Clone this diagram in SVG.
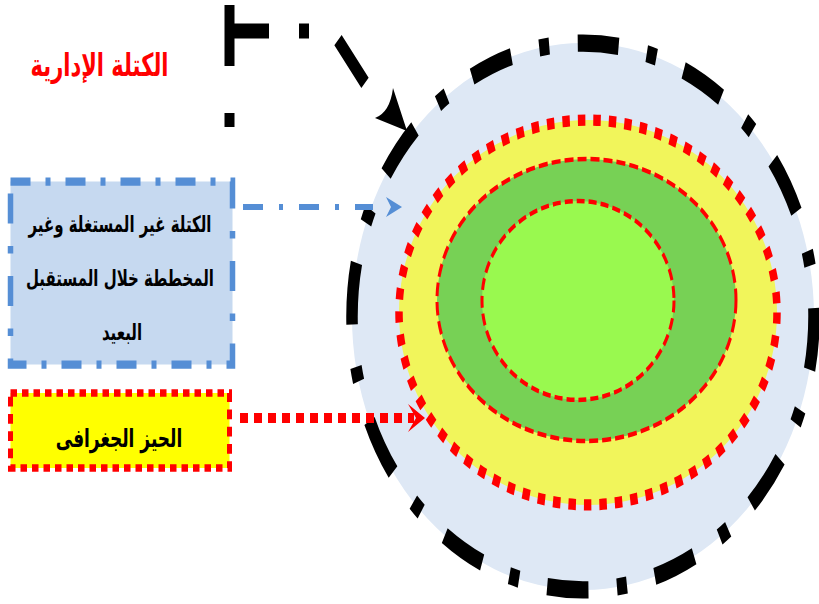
<svg xmlns="http://www.w3.org/2000/svg" width="819" height="604" viewBox="0 0 819 604">
<style>
.ar{font-family:"DejaVu Sans","Noto Sans",sans-serif;font-weight:bold;text-anchor:middle}
.rdash{stroke:#FF0000;stroke-width:3;stroke-dasharray:9 4}
</style>
<rect width="819" height="604" fill="#FFFFFF"/>
<g transform="scale(1,1.5)">
  <g id="zone-admin">
    <path d="M583,28.7 A231,182.3 0 1 1 583,393.3 A231,182.3 0 1 1 583,28.7 Z" fill="#DEE8F5" stroke="#000" stroke-width="11.5" stroke-dasharray="41.5 28.5 10 28.57" stroke-dashoffset="5.75"/>
  </g>
  <g id="zone-geo">
    <ellipse cx="588" cy="208.3" rx="189" ry="128.3" fill="#F1F55B" stroke="#FF0000" stroke-width="7.5" stroke-dasharray="7.5 8"/>
  </g>
  <g id="zone-mid">
    <ellipse cx="586.5" cy="200" rx="149.5" ry="94" class="rdash" style="fill:#77D155"/>
  </g>
  <g id="zone-core">
    <ellipse cx="578" cy="200.3" rx="96" ry="66.3" class="rdash" style="fill:#99F94F;stroke-dasharray:8 4"/>
  </g>
  <g id="title">
    <text class="ar" x="99.5" y="50.5" font-size="21" fill="#FF0000">الكتلة الإدارية</text>
  </g>
  <g id="box-unused">
    <rect x="10.5" y="121" width="222" height="122" fill="#C6D9F0" stroke="#558ED5" stroke-width="5.5" stroke-dasharray="20 15 5 15"/>
    <text class="ar" x="120" y="155" font-size="15" fill="#000">الكتلة غير المستغلة وغير</text>
    <text class="ar" x="120" y="191" font-size="15" fill="#000">المخططة خلال المستقبل</text>
    <text class="ar" x="122" y="227" font-size="15" fill="#000">البعيد</text>
  </g>
  <g id="box-geo">
    <rect x="10.5" y="262" width="219" height="50" fill="#FFFF00" stroke="#FF0000" stroke-width="5" stroke-dasharray="6.5 5"/>
    <text class="ar" x="119" y="298" font-size="17" fill="#000">الحيز الجغرافى</text>
  </g>
  <g id="connectors">
    <path d="M229.5,84.7 V75.3 M229.5,44 V3.3 M229.5,20.7 H269 M299,20.7 H309 M338,26.7 L365,55.3" fill="none" stroke="#000" stroke-width="10"/>
    <path d="M393,58.7 L407,87.3 L375,78.7 Q390,75 393,58.7 Z" fill="#000"/>
    <path d="M243,138 H373" fill="none" stroke="#558ED5" stroke-width="4" stroke-dasharray="20 16 4 16"/>
    <path d="M386,131.3 L402,138 L386,144.7 L391,138 Z" fill="#558ED5"/>
    <path d="M240,278.7 H414" fill="none" stroke="#FF0000" stroke-width="6.7" stroke-dasharray="8 6"/>
    <path d="M408,269.3 L425,278.7 L408,288 L416,278.7 Z" fill="#FF0000"/>
  </g>
</g>
</svg>
